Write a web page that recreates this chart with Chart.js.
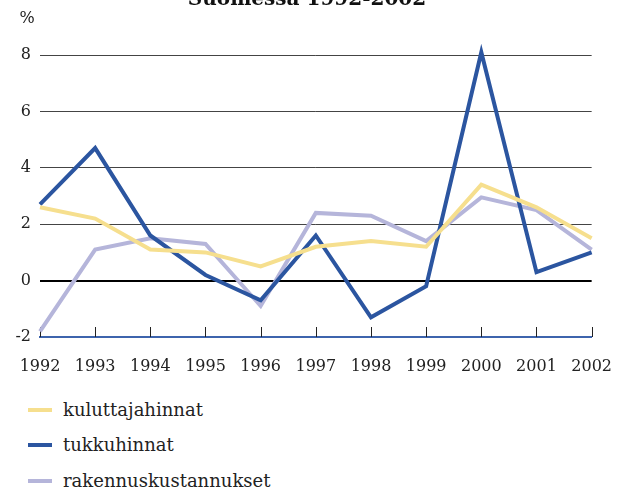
<!DOCTYPE html>
<html>
<head>
<meta charset="utf-8">
<script src="https://cdn.jsdelivr.net/npm/chart.js@4"></script>
<style>
	body { margin: 0; background: #fff; }
	#wrap { position: relative; width: 624px; height: 494px; overflow: hidden; }
	#chart { position: absolute; left: 0; top: 0; }
	.legend-row { position: absolute; left: 28px; height: 24px; font: 18px 'DejaVu Serif', serif; color: #222; }
	.legend-row span.mark { position: absolute; left: 0; top: 10px; width: 24px; height: 4px; }
	.legend-row span.txt { position: absolute; left: 35px; top: 0; white-space: nowrap; line-height: 24px; }
</style>
</head>
<body>
<div id="wrap">
	<canvas id="chart" width="624" height="390"></canvas>
	<div id="legend"></div>
</div>
<script>
const years = ['1992', '1993', '1994', '1995', '1996', '1997', '1998', '1999', '2000', '2001', '2002'];
const kuluttajahinnat = [2.6, 2.2, 1.1, 1.0, 0.5, 1.2, 1.4, 1.2, 3.4, 2.6, 1.5];
const tukkuhinnat = [2.7, 4.7, 1.6, 0.2, -0.7, 1.6, -1.3, -0.2, 8.1, 0.3, 1.0];
const rakennuskustannukset = [-1.8, 1.1, 1.5, 1.3, -0.9, 2.4, 2.3, 1.4, 2.95, 2.5, 1.1];
const yTicks = [-2, 0, 2, 4, 6, 8];
const seriesNames = ['kuluttajahinnat', 'tukkuhinnat', 'rakennuskustannukset'];

const YELLOW = '#f6df8e';
const BLUE = '#2b55a0';
const LAVENDER = '#b5b5da';
const FONT = "'DejaVu Serif', serif";

// title (cut off at top) and the % label
const extras = {
	id: 'extras',
	afterDraw(chart) {
		const { ctx, chartArea } = chart;
		ctx.save();
		ctx.fillStyle = '#111';
		ctx.font = 'bold 20px ' + FONT;
		ctx.textAlign = 'center';
		ctx.textBaseline = 'alphabetic';
		ctx.fillText('Suomessa 1992-2002', 307, 5);
		ctx.font = '16px ' + FONT;
		ctx.fillStyle = '#222';
		ctx.fillText('%', chartArea.left - 13, 23);
		ctx.restore();
	}
};

// small tick marks pointing up from the x axis
const innerTicks = {
	id: 'innerTicks',
	beforeDatasetsDraw(chart) {
		const { ctx, chartArea, scales } = chart;
		ctx.save();
		ctx.strokeStyle = '#222';
		ctx.lineWidth = 1;
		years.forEach((y, i) => {
			const x = Math.round(scales.x.getPixelForValue(i)) + 0.5;
			ctx.beginPath();
			ctx.moveTo(x, chartArea.bottom);
			ctx.lineTo(x, chartArea.bottom - 10);
			ctx.stroke();
		});
		ctx.restore();
	}
};

const chart = new Chart(document.getElementById('chart'), {
	type: 'line',
	data: {
		labels: years,
		datasets: [
			{ label: seriesNames[0], data: kuluttajahinnat, borderColor: YELLOW, backgroundColor: YELLOW },
			{ label: seriesNames[1], data: tukkuhinnat, borderColor: BLUE, backgroundColor: BLUE },
			{ label: seriesNames[2], data: rakennuskustannukset, borderColor: LAVENDER, backgroundColor: LAVENDER }
		]
	},
	options: {
		responsive: false,
		animation: false,
		layout: { padding: { top: 55, left: 4, right: 30, bottom: 13 } },
		datasets: {
			line: { borderWidth: 4, pointRadius: 0, tension: 0, clip: false }
		},
		plugins: {
			legend: { display: false },
			title: { display: false },
			tooltip: { enabled: false }
		},
		scales: {
			x: {
				offset: false,
				grid: { display: false },
				border: { display: true, color: '#3d64ad', width: 2 },
				ticks: { color: '#222', font: { family: FONT, size: 16 }, padding: 12, maxRotation: 0, autoSkip: false },
				afterFit(scale) { scale.height = 40; }
			},
			y: {
				min: -2,
				max: 8,
				afterBuildTicks(scale) { scale.ticks = yTicks.map(v => ({ value: v })); },
				border: { display: false },
				grid: {
					drawTicks: false,
					color: c => c.tick.value === 0 ? '#000' : (c.tick.value === -2 ? 'rgba(0,0,0,0)' : '#444'),
					lineWidth: c => c.tick.value === 0 ? 2 : 1
				},
				ticks: { color: '#222', font: { family: FONT, size: 16 }, padding: 9 },
				afterFit(scale) { scale.width = 36; }
			}
		}
	},
	plugins: [extras, innerTicks]
});

// legend below the chart, one row per series
const legendTops = [398, 433, 469];
const legendEl = document.getElementById('legend');
chart.data.datasets.forEach((ds, i) => {
	const row = document.createElement('div');
	row.className = 'legend-row';
	row.style.top = legendTops[i] + 'px';
	row.innerHTML = '<span class="mark" style="background:' + ds.borderColor + '"></span><span class="txt">' + ds.label + '</span>';
	legendEl.appendChild(row);
});
</script>
</body>
</html>
